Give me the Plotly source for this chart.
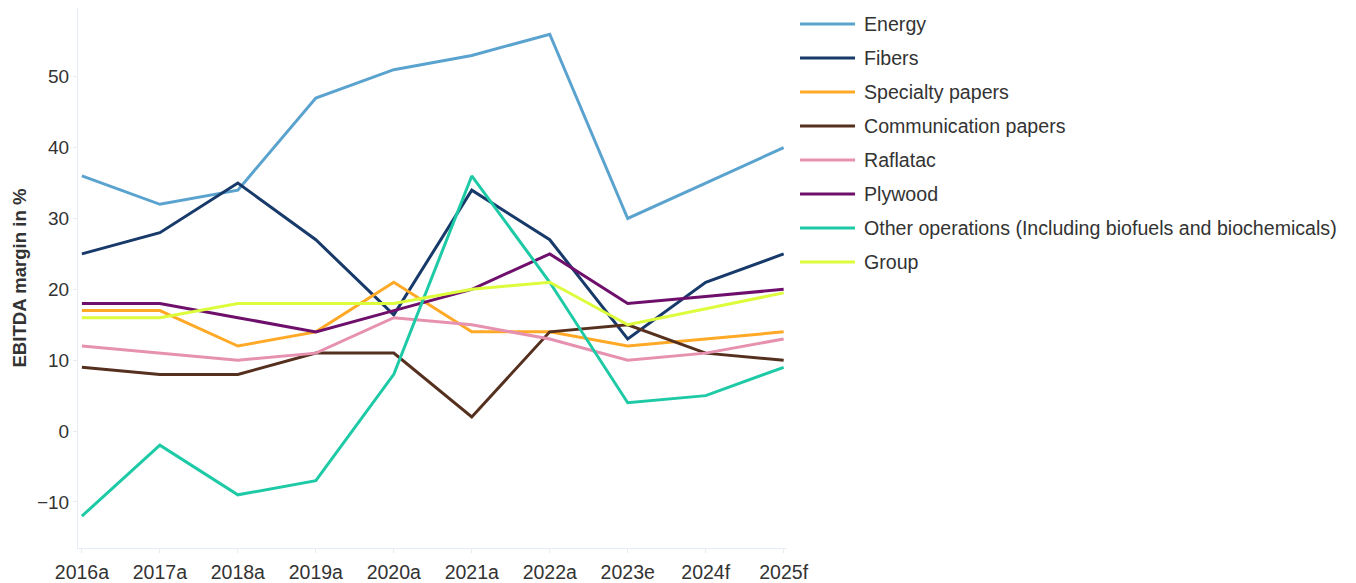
import plotly.graph_objects as go

# Reporting periods (a = actual, e = estimate, f = forecast)
periods = ["2016a", "2017a", "2018a", "2019a", "2020a", "2021a", "2022a", "2023e", "2024f", "2025f"]

# EBITDA margin (%) by business area
energy = [36, 32, 34, 47, 51, 53, 56, 30, 35, 40]
fibers = [25, 28, 35, 27, 16.4, 34, 27, 13, 21, 25]
specialty_papers = [17, 17, 12, 14, 21, 14, 14, 12, 13, 14]
communication_papers = [9, 8, 8, 11, 11, 2, 14, 15, 11, 10]
raflatac = [12, 11, 10, 11, 16, 15, 13, 10, 11, 13]
plywood = [18, 18, 16, 14, 17, 20, 25, 18, 19, 20]
other_operations = [-12, -2, -9, -7, 8, 36, 21, 4, 5, 9]
group = [16, 16, 18, 18, 18, 20, 21, 15, 17.3, 19.5]

series_names = [
    "Energy",
    "Fibers",
    "Specialty papers",
    "Communication papers",
    "Raflatac",
    "Plywood",
    "Other operations (Including biofuels and biochemicals)",
    "Group",
]
series_values = [energy, fibers, specialty_papers, communication_papers,
                 raflatac, plywood, other_operations, group]
series_colors = ["#5ba3cf", "#173a6a", "#ffa927", "#55301f",
                 "#e691b0", "#6e0f6c", "#1ecaa6", "#dcfc3c"]

FONT = "Liberation Sans, Arial, Helvetica, sans-serif"
TEXT = "#333333"
AXIS = "#e6ecf4"

fig = go.Figure()
for name, vals, col in zip(series_names, series_values, series_colors):
    fig.add_trace(go.Scatter(
        x=list(range(len(periods))), y=vals, name=name, mode="lines",
        line=dict(color=col, width=3), showlegend=False,
    ))

# Legend drawn as wide line swatches with labels to the right of the plot
legend_top = 0.9704   # paper y of the first entry
legend_step = 0.063   # paper distance between entries
for i, (name, col) in enumerate(zip(series_names, series_colors)):
    yy = legend_top - i * legend_step
    fig.add_shape(type="line", xref="paper", yref="paper",
                  x0=1.0198, x1=1.0975, y0=yy, y1=yy,
                  line=dict(color=col, width=3))
    fig.add_annotation(xref="paper", yref="paper", x=1.1074, y=yy,
                       text=name, showarrow=False, xanchor="left", yanchor="middle",
                       font=dict(family=FONT, size=19.6, color=TEXT))

fig.update_layout(
    width=1356, height=583,
    margin=dict(l=78, r=570, t=8, b=35, autoexpand=False),
    paper_bgcolor="white", plot_bgcolor="white",
    font=dict(family=FONT, size=19.5, color=TEXT),
    showlegend=False,
)
fig.update_xaxes(
    tickmode="array", tickvals=list(range(len(periods))), ticktext=periods,
    range=[-0.05, 9.03], showgrid=False, zeroline=False,
    showline=True, linecolor=AXIS, linewidth=1,
    ticks="outside", ticklen=4, tickcolor=AXIS,
    ticklabelstandoff=3, automargin=False,
    tickfont=dict(family=FONT, size=19.5, color=TEXT),
)
fig.update_yaxes(
    range=[-16.5, 59.7], tickvals=[-10, 0, 10, 20, 30, 40, 50],
    showgrid=False, zeroline=False, automargin=False,
    showline=True, linecolor=AXIS, linewidth=1,
    ticks="outside", ticklen=4, tickcolor=AXIS,
    tickfont=dict(family=FONT, size=19, color=TEXT),
    title=dict(text="<b>EBITDA margin in %</b>", font=dict(family=FONT, size=18.6, color=TEXT),
               standoff=5),
)

fig.write_html("out.html")
